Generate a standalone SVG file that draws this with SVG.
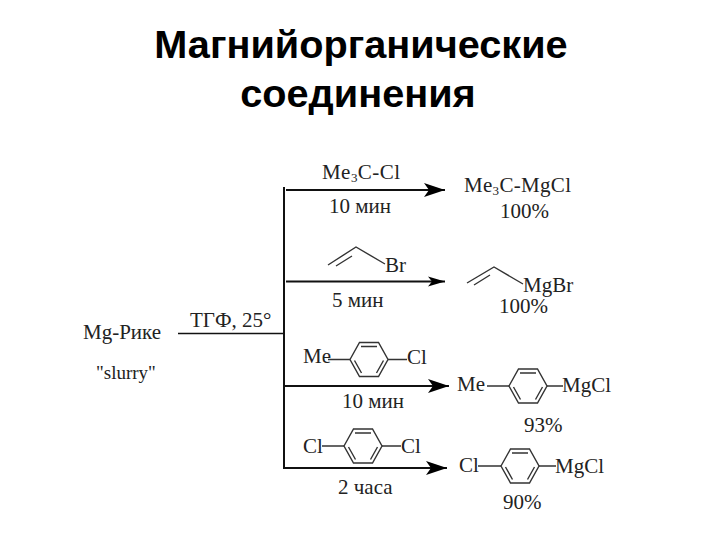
<svg xmlns="http://www.w3.org/2000/svg" width="720" height="540" viewBox="0 0 720 540">
<style>
.t{font-family:"Liberation Sans",Arial,sans-serif;font-weight:bold;font-size:39.700px;fill:#000;text-anchor:middle}
.c{font-family:"Liberation Serif","Times New Roman",serif;font-size:21px;fill:#222}
.s{font-size:13px}
.l{stroke:#111;stroke-width:2;fill:none}
.b{stroke:#333;stroke-width:1.400;fill:none}
</style>
<defs>
<marker id="ah" markerUnits="userSpaceOnUse" markerWidth="22" markerHeight="14" refX="21" refY="7" orient="auto"><path d="M0 0L21 7L0 14L5 7Z" fill="#000"/></marker>
<marker id="ah2" markerUnits="userSpaceOnUse" markerWidth="18" markerHeight="12" refX="17" refY="6" orient="auto"><path d="M0 1L17 6L0 11L4 6Z" fill="#000"/></marker>
<g id="ring" class="b"><path d="M-19 0L-9.500-17H9.500L19 0L9.500 17H-9.500Z"/><path d="M-8-13H8M-14.500 1L-7.500 13.500M14.500 1L7.500 13.500"/></g>
</defs>
<rect width="720" height="540" fill="#fff"/>
<g id="title"><text class="t" x="361" y="58">Магнийорганические</text><text class="t" x="358" y="107">соединения</text></g>
<g id="connectors">
<path class="l" d="M284 187V469"/>
<path d="M178 333.500H284" stroke="#111" stroke-width="1.500"/>
<path class="l" d="M286 190H445" marker-end="url(#ah)"/>
<path class="l" d="M286 281.500H445" marker-end="url(#ah2)"/>
<path class="l" d="M284 386H449" marker-end="url(#ah)"/>
<path class="l" d="M284 468H447" marker-end="url(#ah)"/>
</g>
<g id="reagent"><text class="c" x="83" y="339">Mg-Рике</text><text class="c" x="96" y="379" style="font-size:19px">"slurry"</text><text class="c" x="190" y="327">ТГФ, 25°</text></g>
<g id="r1">
<text class="c" x="322" y="179" textLength="78">Me<tspan class="s" dy="3">3</tspan><tspan dy="-3">C-Cl</tspan></text>
<text class="c" x="329" y="213">10 мин</text>
<text class="c" x="464" y="192" textLength="107">Me<tspan class="s" dy="3">3</tspan><tspan dy="-3">C-MgCl</tspan></text>
<text class="c" x="500" y="218">100%</text>
</g>
<g id="r2">
<path class="b" d="M328 265L356 247L385 264M336 266L352 256"/>
<text class="c" x="385" y="272">Br</text>
<text class="c" x="332" y="307">5 мин</text>
<path class="b" d="M467 283L494 267L523 284M474 285L490 275"/>
<text class="c" x="523" y="292">MgBr</text>
<text class="c" x="499" y="313">100%</text>
</g>
<g id="r3">
<text class="c" x="303" y="363">Me</text><path class="b" d="M328 359.500H350M388 359.500H407"/><use href="#ring" x="369" y="359.500"/>
<text class="c" x="407" y="364">Cl</text>
<text class="c" x="342" y="408">10 мин</text>
<text class="c" x="457" y="391">Me</text><path class="b" d="M487 386H509M547 386H563"/><use href="#ring" x="528" y="386"/>
<text class="c" x="562" y="392">MgCl</text>
<text class="c" x="524" y="432">93%</text>
</g>
<g id="r4">
<text class="c" x="303" y="453">Cl</text><path class="b" d="M322 446H344M382 446H401"/><use href="#ring" x="363" y="446"/>
<text class="c" x="401" y="453">Cl</text>
<text class="c" x="338" y="494">2 часа</text>
<text class="c" x="459" y="472">Cl</text><path class="b" d="M478 466H501M539 466H556"/><use href="#ring" x="520" y="466"/>
<text class="c" x="555" y="473">MgCl</text>
<text class="c" x="503" y="509">90%</text>
</g>
</svg>
